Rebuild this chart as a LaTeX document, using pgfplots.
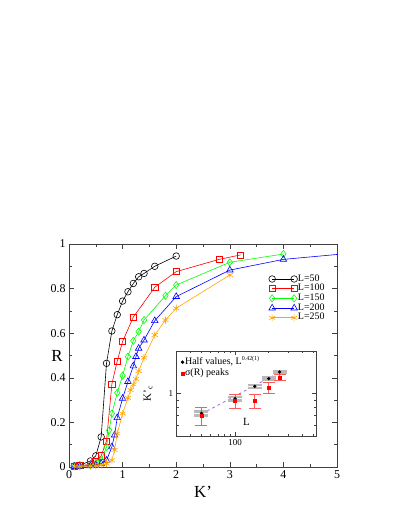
\documentclass[border=0pt]{standalone}
\usepackage{pgfplots}
\pgfplotsset{compat=1.18}
\usepackage{fontspec}
\setmainfont{Liberation Serif}

\definecolor{grgreen}{RGB}{0,255,0}
\definecolor{grorange}{RGB}{255,165,0}
\definecolor{grviolet}{RGB}{150,90,210}
\definecolor{errred}{RGB}{255,90,90}

\begin{document}
\begin{tikzpicture}
% page frame: the chart sits in the lower part of the page
\path[use as bounding box] (-69bp,-60bp) rectangle (338bp,467bp);

\begin{axis}[
    at={(0,0)}, anchor=south west,
    scale only axis, width=268bp, height=223bp,
    xmin=0, xmax=5, ymin=0, ymax=1,
    xtick={0,1,2,3,4,5},
    ytick={0,0.2,0.4,0.6,0.8,1},
    minor x tick num=1, minor y tick num=1,
    tick align=inside,
    major tick length=5bp, minor tick length=3bp,
    axis line style={line width=0.6bp, black!75},
    tick style={line width=0.5bp, black!75},
    tick label style={font=\fontsize{12}{12}\selectfont},
    /pgf/number format/assume math mode=true,
    xlabel={K'},
    xlabel style={font=\fontsize{17}{17}\selectfont, at={(axis description cs:0.5,0)}, anchor=center, yshift=-25bp},
    ylabel={R},
    ylabel style={font=\fontsize{17}{17}\selectfont, rotate=-90, at={(axis description cs:0,0.5)}, anchor=center, xshift=-12bp},
    clip mode=individual,
    every axis plot/.append style={line width=0.6bp},
    legend image code/.code={\draw[#1] plot coordinates {(0bp,0bp) (22bp,0bp)};},
    legend style={at={(0.745,0.868)}, anchor=north west, draw=none, fill=none,
        font=\fontsize{10}{10}\selectfont, inner sep=0pt, row sep=-1bp,
        nodes={inner sep=0.5bp, text height=7bp, text depth=2.7bp}},
    legend cell align=left,
]
\addplot[black, mark=o, mark size=3.3bp] coordinates {
    (0.1,0.005) (0.2,0.008) (0.4,0.027) (0.5,0.05) (0.6,0.135) (0.7,0.465)
    (0.8,0.61) (0.9,0.683) (1.0,0.744) (1.1,0.786) (1.2,0.823) (1.3,0.853)
    (1.4,0.868) (1.6,0.90) (2.0,0.946)
};
\addlegendentry{L=50}
\addplot[red, mark=square, mark size=3.1bp] coordinates {
    (0.1,0.004) (0.2,0.006) (0.4,0.012) (0.5,0.024) (0.6,0.05) (0.7,0.117)
    (0.8,0.372) (0.9,0.475) (1.0,0.563) (1.2,0.672) (1.6,0.806) (2.0,0.876)
    (2.8,0.931) (3.2,0.951)
};
\addlegendentry{L=100}
\addplot[grgreen, mark=diamond, mark size=3.6bp] coordinates {
    (0.1,0.003) (0.2,0.005) (0.4,0.008) (0.5,0.015) (0.6,0.03) (0.7,0.09)
    (0.75,0.165) (0.8,0.24) (0.9,0.333) (1.0,0.41) (1.1,0.495) (1.2,0.566)
    (1.3,0.607) (1.4,0.659) (1.8,0.768) (2.0,0.816) (3.0,0.918) (4.0,0.955)
};
\addlegendentry{L=150}
\addplot[blue, mark=triangle, mark size=3.8bp, mark indices={1,...,19}] coordinates {
    (0.1,0.002) (0.2,0.003) (0.4,0.005) (0.5,0.008) (0.6,0.015) (0.7,0.03)
    (0.8,0.09) (0.85,0.143) (0.9,0.221) (1.0,0.308) (1.1,0.383) (1.2,0.453)
    (1.25,0.495) (1.3,0.532) (1.4,0.569) (1.6,0.656) (2.0,0.764) (3.0,0.883)
    (4.0,0.931) (6.0,0.975)
};
\addlegendentry{L=200}
\addplot[grorange, mark=asterisk, mark size=3.5bp] coordinates {
    (0.1,0.002) (0.2,0.002) (0.4,0.004) (0.5,0.005) (0.6,0.008) (0.7,0.015)
    (0.8,0.03) (0.85,0.076) (0.9,0.15) (1.0,0.24) (1.1,0.31) (1.15,0.345)
    (1.2,0.37) (1.25,0.395) (1.3,0.43) (1.4,0.49) (1.6,0.592) (1.8,0.659)
    (2.0,0.712) (3.0,0.861)
};
\addlegendentry{L=250}
\end{axis}

% inset: critical couplings against L
\begin{axis}[
    at={(107.7bp,31bp)}, anchor=south west,
    scale only axis, width=139.3bp, height=85bp,
    xmode=log, ymode=log,
    xmin=30, xmax=530, ymin=0.5, ymax=2,
    xtick={100}, xticklabels={100},
    ytick={1}, yticklabels={1},
    minor xtick={40,50,60,70,80,90,200,300,400,500},
    minor ytick={0.6,0.7,0.8,0.9},
    tick align=inside,
    major tick length=4bp, minor tick length=2.5bp,
    axis line style={line width=0.6bp, black!75},
    tick style={line width=0.5bp, black!75},
    tick label style={font=\fontsize{9}{9}\selectfont},
    /pgf/number format/assume math mode=true,
    axis background/.style={fill=white},
    xlabel={L},
    xlabel style={font=\fontsize{11}{11}\selectfont, at={(axis description cs:0.5,0.168)}, anchor=center},
    ylabel={K'\textsubscript{c}},
    ylabel style={font=\fontsize{11}{11}\selectfont, at={(axis description cs:-0.206,0.5)}, anchor=center},
    legend style={at={(0.03,0.94)}, anchor=north west, draw=none, fill=none,
        font=\fontsize{10}{10}\selectfont, inner sep=0pt,
        nodes={inner sep=1pt, text height=7bp, text depth=2.7bp}},
    legend cell align=left,
]
\addplot[grviolet, dashed, line width=0.7bp, forget plot] coordinates {
    (45,0.685) (274,1.47)
};
\addplot[black, only marks, mark=*, mark size=1.5bp,
    error bars/.cd, y dir=both, y explicit,
    error bar style={line width=0.5bp, black},
    error mark options={rotate=90, mark size=7bp, line width=2.5bp, gray!55}]
    table[x=L, y=K, y error=e] {
L    K      e
50   0.723  0.025
100  0.916  0.025
150  1.122  0.025
200  1.274  0.025
250  1.420  0.025
};
\addlegendentry{Half values, L\textsuperscript{\fontsize{6}{6}\selectfont 0.42(1)}}
\addplot[red, only marks, mark=square*, mark size=1.5bp,
    error bars/.cd, y dir=both, y explicit,
    error bar style={line width=0.6bp, errred},
    error mark options={rotate=90, mark size=6bp, line width=0.6bp, errred}]
    table[x=L, y=K, y error=e] {
L    K      e
50   0.70   0.10
100  0.89   0.10
150  0.89   0.10
200  1.10   0.10
250  1.30   0.065
};
\addlegendentry{σ(R) peaks}
\end{axis}
\end{tikzpicture}
\end{document}
